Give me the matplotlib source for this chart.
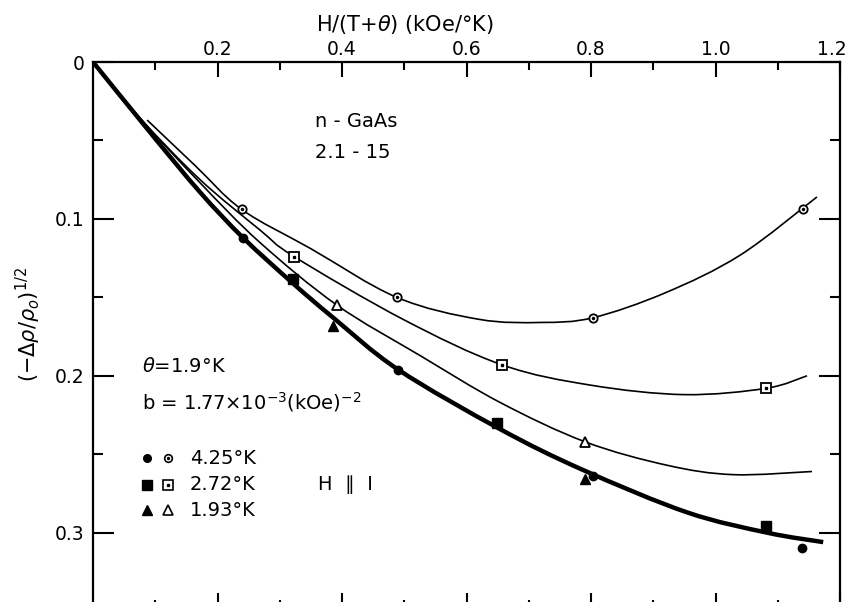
import numpy as np
import matplotlib
matplotlib.use("Agg")
import matplotlib.pyplot as plt
import matplotlib.transforms as mtransforms
from matplotlib.path import Path
from matplotlib.patches import PathPatch

plt.rcParams['font.family'] = ['DejaVu Sans']
plt.rcParams['mathtext.fontset'] = 'dejavusans'

# ---- data ----
# smooth hand-drawn curves
curve_open_425_x = [0.087, 0.164, 0.239, 0.35, 0.488, 0.62, 0.72, 0.803, 0.92, 1.04, 1.163]
curve_open_425_y = [0.037, 0.066, 0.094, 0.119, 0.150, 0.164, 0.166, 0.163, 0.147, 0.123, 0.086]

curve_open_272_x = [0.0, 0.076, 0.172, 0.268, 0.323, 0.498, 0.657, 0.80, 0.95, 1.081, 1.147]
curve_open_272_y = [0.0, 0.036, 0.075, 0.107, 0.124, 0.164, 0.193, 0.206, 0.212, 0.208, 0.200]

curve_open_193_x = [0.0, 0.076, 0.172, 0.268, 0.392, 0.525, 0.654, 0.790, 0.922, 1.028, 1.155]
curve_open_193_y = [0.0, 0.036, 0.077, 0.115, 0.155, 0.187, 0.217, 0.242, 0.257, 0.263, 0.261]

curve_filled_x = [0.0, 0.092, 0.172, 0.241, 0.321, 0.386, 0.490, 0.654, 0.787, 0.954, 1.083, 1.173]
curve_filled_y = [0.0, 0.045, 0.083, 0.112, 0.141, 0.163, 0.196, 0.234, 0.260, 0.287, 0.300, 0.306]

# measured points
open_425_x = [0.239, 0.488, 0.803, 1.141]
open_425_y = [0.094, 0.150, 0.163, 0.094]
filled_425_x = [0.241, 0.490, 0.803, 1.139]
filled_425_y = [0.112, 0.196, 0.264, 0.310]

open_272_x = [0.323, 0.657, 1.081]
open_272_y = [0.124, 0.193, 0.208]
filled_272_x = [0.321, 0.649, 1.081]
filled_272_y = [0.138, 0.230, 0.296]

open_193_x = [0.392, 0.790]
open_193_y = [0.155, 0.242]
filled_193_x = [0.386, 0.790]
filled_193_y = [0.168, 0.266]

x_major = [0.2, 0.4, 0.6, 0.8, 1.0, 1.2]
x_major_labels = ['0.2', '0.4', '0.6', '0.8', '1.0', '1.2']
x_minor = [0.1, 0.3, 0.5, 0.7, 0.9, 1.1]
y_major = [0.0, 0.1, 0.2, 0.3]
y_major_labels = ['0', '0.1', '0.2', '0.3']
y_minor = [0.05, 0.15, 0.25]

legend_temps = ['4.25°K', '2.72°K', '1.93°K']

# ---- figure ----
W, H = 849, 602
fig = plt.figure(figsize=(W / 100, H / 100), dpi=100)
ax = fig.add_axes([93 / W, 1 - 608 / H, (840 - 93) / W, (608 - 62) / H])
ax.set_xlim(0, 1.2)
ax.set_ylim(0.348, 0)


def smooth(ax, xs, ys, lw):
    pts = np.column_stack([xs, ys]).astype(float)
    n = len(pts)
    verts = [pts[0]]
    codes = [Path.MOVETO]
    for i in range(n - 1):
        p0 = pts[max(i - 1, 0)]
        p1 = pts[i]
        p2 = pts[i + 1]
        p3 = pts[min(i + 2, n - 1)]
        c1 = p1 + (p2 - p0) / 6.0
        c2 = p2 - (p3 - p1) / 6.0
        verts += [c1, c2, p2]
        codes += [Path.CURVE4] * 3
    ax.add_patch(PathPatch(Path(verts, codes), fill=False, lw=lw,
                           edgecolor='black', capstyle='butt', zorder=2))


smooth(ax, curve_open_425_x, curve_open_425_y, 1.2)
smooth(ax, curve_open_272_x, curve_open_272_y, 1.2)
smooth(ax, curve_open_193_x, curve_open_193_y, 1.2)
smooth(ax, curve_filled_x, curve_filled_y, 3.2)

k = 'black'
# filled markers
ax.plot(filled_425_x, filled_425_y, 'o', ms=6, color=k, zorder=4, ls='none')
ax.plot(filled_272_x, filled_272_y, 's', ms=7, color=k, zorder=4, ls='none')
ax.plot(filled_193_x, filled_193_y, '^', ms=7.5, color=k, zorder=4, ls='none')
# open markers
ax.plot(open_425_x, open_425_y, 'o', ms=6, mfc='white', mec=k, mew=1.3, zorder=4, ls='none')
ax.plot(open_425_x, open_425_y, 'o', ms=1.5, color=k, zorder=5, ls='none')
ax.plot(open_272_x, open_272_y, 's', ms=7, mfc='white', mec=k, mew=1.3, zorder=4, ls='none')
ax.plot(open_272_x, open_272_y, 's', ms=1.5, color=k, zorder=5, ls='none')
ax.plot(open_193_x, open_193_y, '^', ms=7.5, mfc='white', mec=k, mew=1.3, zorder=4, ls='none')

# ---- axes / ticks ----
for s in ax.spines.values():
    s.set_linewidth(1.6)
ax.spines['bottom'].set_visible(False)

ax.set_xticks(x_major)
ax.set_xticklabels(x_major_labels)
ax.set_xticks(x_minor, minor=True)
ax.set_yticks(y_major)
ax.set_yticklabels(y_major_labels)
ax.set_yticks(y_minor, minor=True)

ax.tick_params(axis='x', which='both', direction='in', top=True, bottom=True,
               labeltop=True, labelbottom=False, width=1.5, labelsize=13.5, pad=2)
ax.tick_params(axis='x', which='major', length=11)
ax.tick_params(axis='x', which='minor', length=6)
ax.tick_params(axis='y', which='both', direction='in', left=True, right=True,
               labelleft=True, labelright=False, width=1.5, labelsize=13.5, pad=6)
ax.tick_params(axis='y', which='major', length=15)
ax.tick_params(axis='y', which='minor', length=7)

# keep the last top label inside the figure
last = ax.xaxis.get_majorticklabels()[-1]
last.set_transform(last.get_transform() +
                   mtransforms.ScaledTranslation(-8 / 100, 0, fig.dpi_scale_trans))

# ---- labels ----
fig.text(405 / W, 1 - 25 / H, r'H/(T+$\theta$) (kOe/°K)', ha='center', va='center', fontsize=15)
fig.text(28 / W, 1 - 325 / H, r'$(\mathregular{-}\Delta\rho/\rho_{o})^{1/2}$',
         rotation=90, ha='center', va='center', fontsize=15)

def axfrac(px, py):
    return (px - 93) / 747.0, 1 - (py - 62) / 546.0

tf = ax.transAxes
ax.text(*axfrac(315, 121), 'n - GaAs', transform=tf, ha='left', va='center', fontsize=14)
ax.text(*axfrac(315, 152), '2.1 - 15', transform=tf, ha='left', va='center', fontsize=14)
ax.text(*axfrac(142, 367), r'$\theta$=1.9°K', transform=tf, ha='left', va='center', fontsize=14)
ax.text(*axfrac(142, 402), r'b = 1.77$\times$10$^{-3}$(kOe)$^{-2}$', transform=tf,
        ha='left', va='center', fontsize=14)

rows_py = [458, 485, 510]
fill_m = ['o', 's', '^']
fill_ms = [5.5, 6.5, 7]
for py, temp, m, ms in zip(rows_py, legend_temps, fill_m, fill_ms):
    xa, ya = axfrac(147, py)
    ax.plot([xa], [ya], m, ms=ms, color=k, transform=tf, clip_on=False)
    xb, yb = axfrac(168, py)
    ax.plot([xb], [yb], m, ms=ms, mfc='white', mec=k, mew=1.2, transform=tf, clip_on=False)
    if m != '^':
        ax.plot([xb], [yb], m, ms=1.4, color=k, transform=tf, clip_on=False)
    xt, yt = axfrac(190, py)
    ax.text(xt, yt, temp, transform=tf, ha='left', va='center', fontsize=14)

ax.text(*axfrac(318, 485), 'H  \u2225  I', transform=tf, ha='left', va='center', fontsize=14)

fig.savefig('out.png', dpi=100, facecolor='white')
